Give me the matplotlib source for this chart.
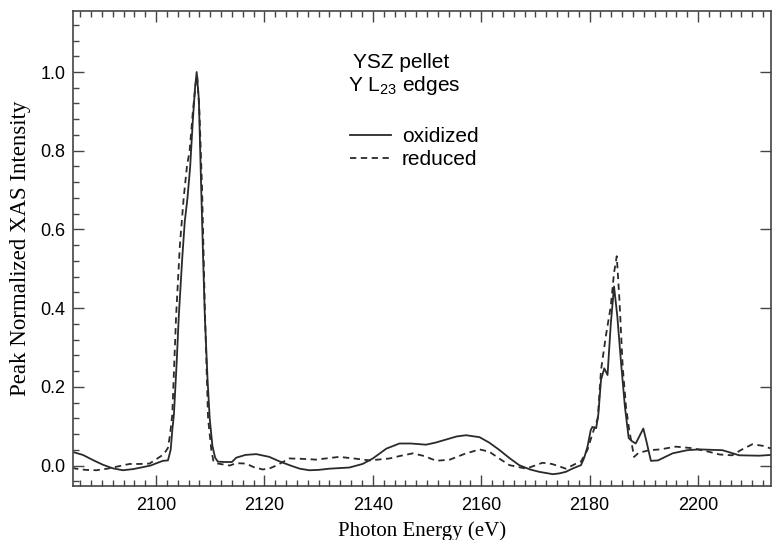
import matplotlib
matplotlib.use("Agg")
import matplotlib.pyplot as plt
from matplotlib.ticker import MultipleLocator

plt.rcParams['font.family'] = ['Liberation Sans', 'DejaVu Sans']

# oxidized (solid)
ox_e = [2084.5, 2086.5, 2088.5, 2090.2, 2092.0, 2093.9, 2095.8, 2097.6, 2099.0, 2100.1,
        2101.3, 2102.2, 2102.7, 2103.0, 2103.3, 2103.8, 2104.2, 2104.8, 2105.3, 2105.8,
        2106.3, 2106.8, 2107.2, 2107.5, 2107.9, 2108.3, 2108.7, 2109.0, 2109.5, 2109.9,
        2110.4, 2110.9, 2111.4, 2112.5, 2114.0, 2114.8, 2116.5, 2118.5, 2120.9, 2122.7,
        2124.6, 2126.5, 2128.3, 2130.0, 2132.0, 2135.7, 2138.1, 2140.0, 2142.5, 2144.9,
        2147.0, 2149.8, 2151.5, 2153.5, 2155.5, 2157.2, 2159.7, 2161.5, 2163.4, 2165.2,
        2167.0, 2169.0, 2170.7, 2173.2, 2174.4, 2175.6, 2176.8, 2177.5, 2178.4, 2179.0,
        2179.6, 2180.2, 2180.5, 2181.2, 2181.6, 2182.1, 2182.7, 2183.3, 2183.9, 2184.5,
        2185.1, 2185.8, 2186.5, 2187.2, 2187.8, 2188.5, 2189.2, 2189.9, 2190.5, 2191.3,
        2192.6, 2195.3, 2198.0, 2200.2, 2204.5, 2207.6, 2211.3, 2213.5]
ox_i = [0.035, 0.027, 0.013, 0.002, -0.007, -0.012, -0.009, -0.004, 0.000, 0.006,
        0.012, 0.013, 0.040, 0.090, 0.130, 0.260, 0.380, 0.520, 0.620, 0.680,
        0.760, 0.880, 0.960, 1.000, 0.930, 0.720, 0.520, 0.380, 0.220, 0.120,
        0.050, 0.020, 0.010, 0.009, 0.009, 0.020, 0.027, 0.029, 0.022, 0.011,
        0.001, -0.008, -0.012, -0.011, -0.008, -0.005, 0.004, 0.018, 0.043, 0.056,
        0.056, 0.053, 0.058, 0.066, 0.074, 0.077, 0.072, 0.058, 0.039, 0.019,
        0.001, -0.010, -0.016, -0.022, -0.020, -0.016, -0.008, -0.004, 0.001, 0.020,
        0.048, 0.090, 0.098, 0.095, 0.130, 0.218, 0.247, 0.230, 0.360, 0.455,
        0.380, 0.260, 0.150, 0.070, 0.062, 0.056, 0.075, 0.094, 0.060, 0.012,
        0.013, 0.031, 0.039, 0.041, 0.039, 0.026, 0.025, 0.027]

# reduced (dashed)
red_e = [2084.5, 2085.3, 2087.0, 2089.0, 2091.0, 2092.7, 2095.1, 2097.0, 2098.8, 2100.7,
         2101.5, 2102.2, 2102.6, 2103.0, 2103.7, 2104.4, 2105.1, 2105.7, 2106.2, 2106.8,
         2107.3, 2107.6, 2108.0, 2108.5, 2109.0, 2109.6, 2110.2, 2110.6, 2111.4, 2113.6,
         2114.8, 2116.6, 2118.0, 2119.7, 2121.0, 2122.2, 2124.6, 2127.0, 2129.5, 2133.8,
         2136.5, 2139.4, 2143.1, 2144.9, 2147.4, 2149.5, 2151.7, 2154.2, 2157.0, 2159.7,
         2161.5, 2163.3, 2165.2, 2168.3, 2171.3, 2173.0, 2174.4, 2175.6, 2177.5, 2178.4,
         2179.6, 2180.5, 2181.5, 2182.1, 2183.0, 2183.9, 2184.5, 2185.0, 2185.5, 2186.1,
         2186.7, 2187.3, 2188.2, 2189.0, 2191.0, 2193.0, 2195.9, 2199.0, 2202.0, 2204.0,
         2206.3, 2208.0, 2210.0, 2212.0, 2213.5]
red_i = [-0.006, -0.008, -0.011, -0.012, -0.008, -0.003, 0.004, 0.004, 0.005, 0.022,
         0.030, 0.045, 0.080, 0.130, 0.380, 0.560, 0.680, 0.760, 0.800, 0.900,
         0.970, 0.990, 0.900, 0.700, 0.400, 0.120, 0.040, 0.010, 0.005, 0.000,
         0.006, 0.005, -0.004, -0.010, -0.007, 0.000, 0.018, 0.017, 0.015, 0.022,
         0.018, 0.013, 0.018, 0.024, 0.031, 0.024, 0.012, 0.015, 0.030, 0.041,
         0.035, 0.018, 0.001, -0.008, 0.007, 0.004, -0.002, -0.008, 0.005, 0.010,
         0.040, 0.080, 0.120, 0.243, 0.330, 0.405, 0.490, 0.532, 0.420, 0.250,
         0.150, 0.090, 0.022, 0.032, 0.039, 0.041, 0.048, 0.044, 0.035, 0.028,
         0.026, 0.040, 0.054, 0.050, 0.043]

fig = plt.figure(figsize=(7.72, 5.40), dpi=100)
ax = fig.add_axes([0.094, 0.1, 0.905, 0.8796])

ink = '#2a2a2a'
ax.plot(ox_e, ox_i, color=ink, lw=1.3, label='oxidized')
ax.plot(red_e, red_i, color=ink, lw=1.3, ls=(0, (3.5, 2.5)), label='reduced')

ax.set_xlim(2084.6, 2213.5)
ax.set_ylim(-0.052, 1.155)
ax.xaxis.set_major_locator(MultipleLocator(20))
ax.xaxis.set_minor_locator(MultipleLocator(2))
ax.yaxis.set_major_locator(MultipleLocator(0.2))
ax.yaxis.set_minor_locator(MultipleLocator(0.04))
ax.yaxis.set_major_formatter(lambda v, p: f'{v:.1f}')

ax.tick_params(which='both', direction='in', top=True, color='#444444', width=1.0)
ax.tick_params(which='major', length=8, labelsize=13, right=True)
ax.tick_params(axis='x', which='major', pad=8)
ax.tick_params(axis='y', which='major', pad=5)
ax.tick_params(which='minor', length=4, right=False)
for s in ax.spines.values():
    s.set_color('#444444')
    s.set_linewidth(1.2)

ax.set_xlabel('Photon Energy (eV)', family='Liberation Serif', fontsize=15, labelpad=5)
ax.set_ylabel('Peak Normalized XAS Intensity', family='Liberation Serif', fontsize=16.5, labelpad=7)

fig.text(0.52, 0.885, 'YSZ pellet', fontsize=15, ha='center', va='center')
fig.text(0.523, 0.842, r'Y L$_{\mathregular{23}}$ edges', fontsize=15, ha='center', va='center')

ax.legend(loc='upper left', bbox_to_anchor=(0.453, 0.765), bbox_transform=fig.transFigure,
          frameon=False, fontsize=15, handlelength=2.0, handletextpad=0.5,
          borderpad=0, borderaxespad=0, labelspacing=0.2)

fig.savefig('out.png', dpi=100)
